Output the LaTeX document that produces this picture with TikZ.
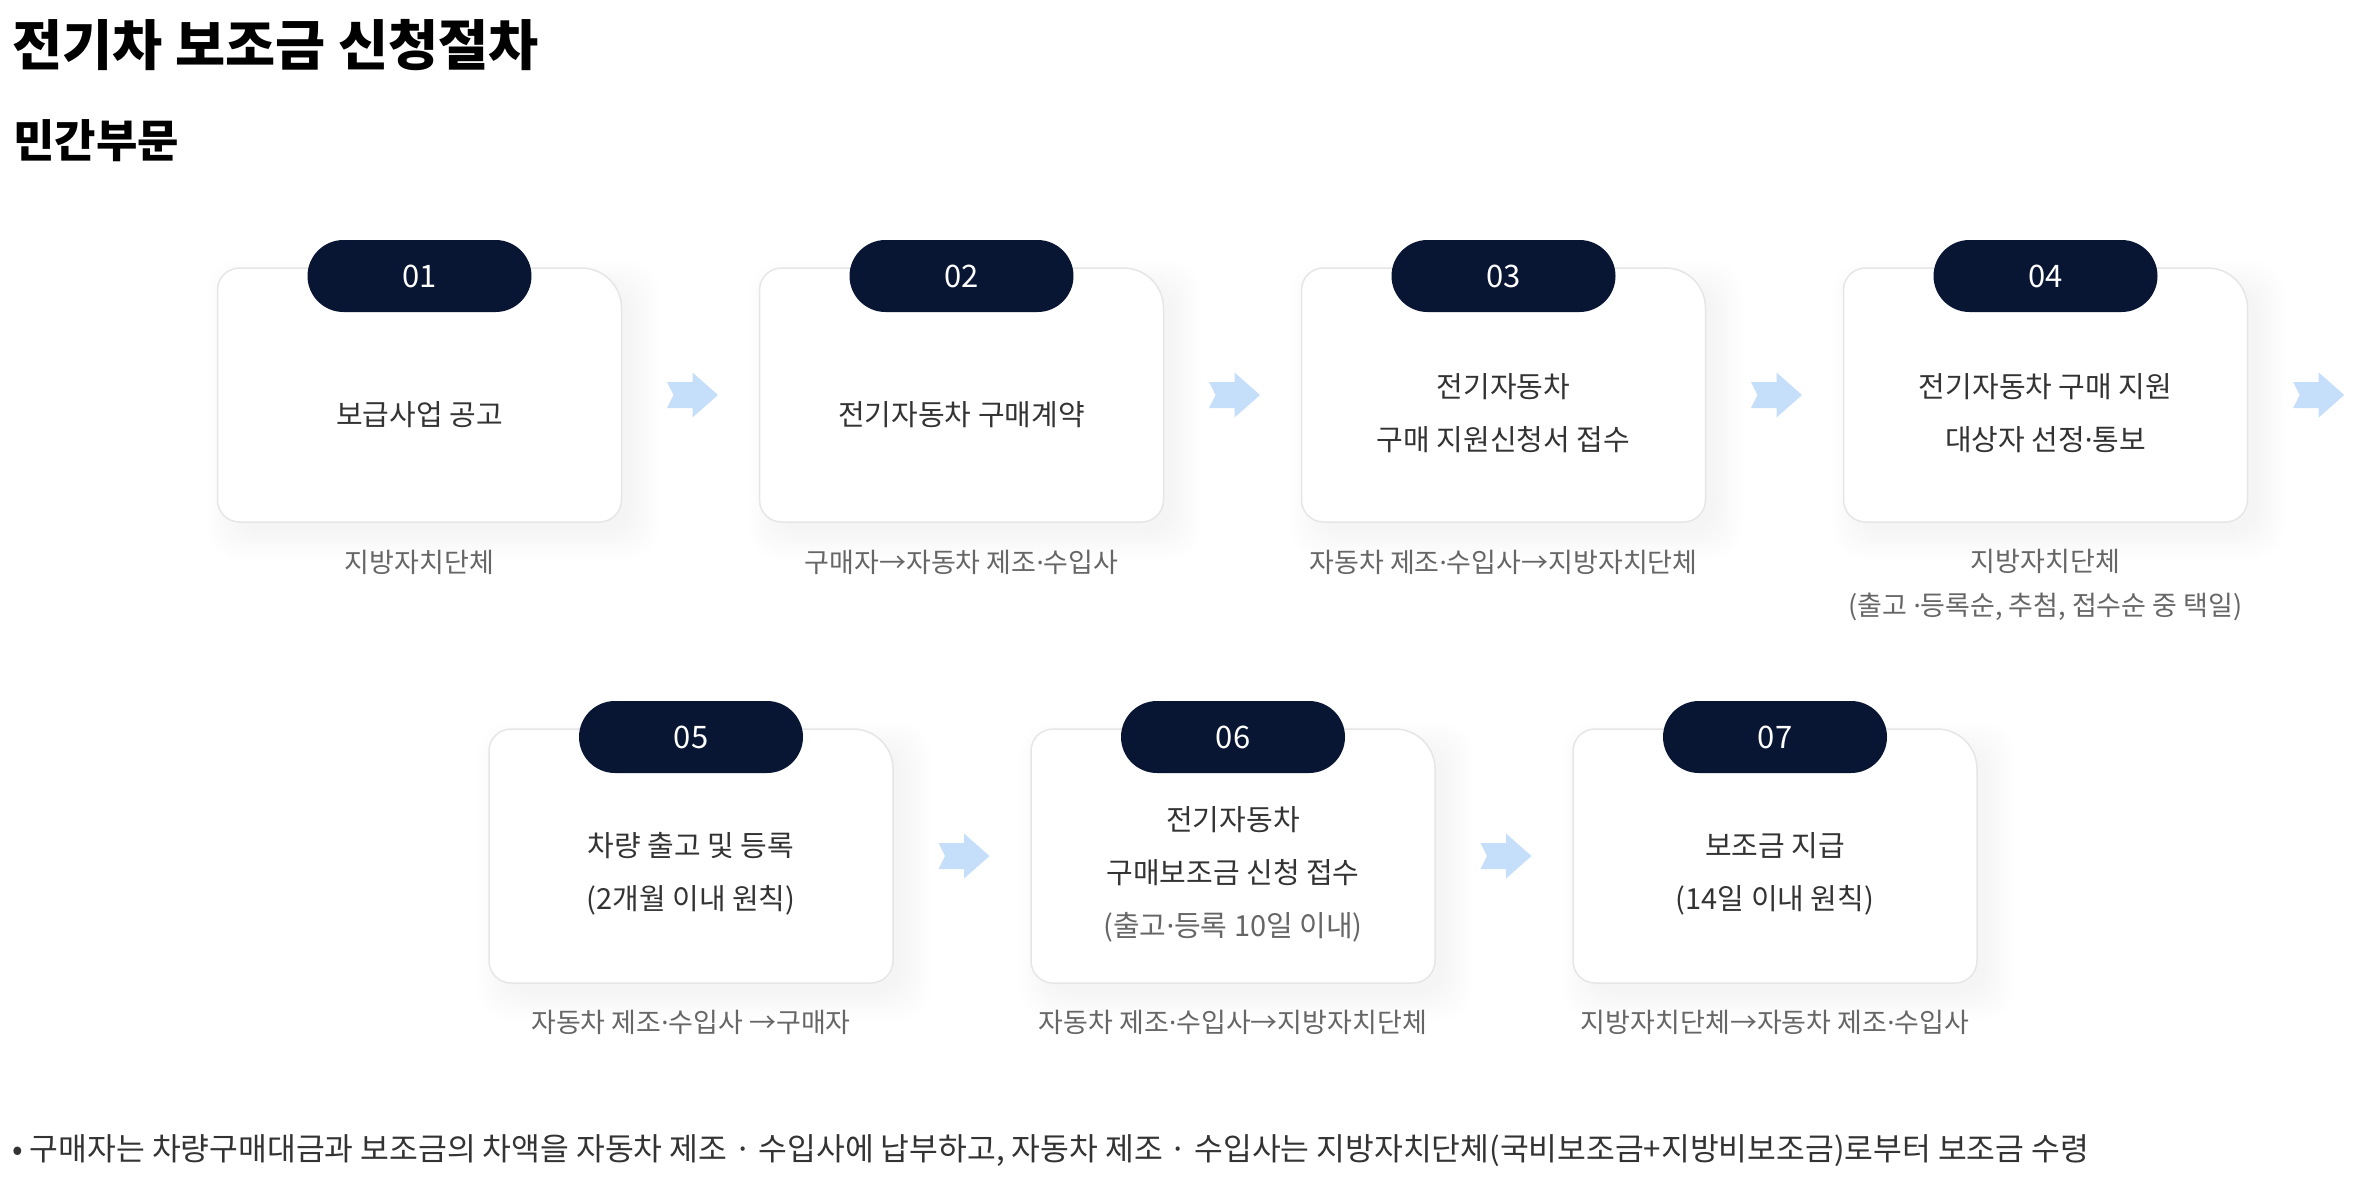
\documentclass[tikz,border=0pt]{standalone}
\usepackage{fontspec}
\setmainfont{Noto Sans CJK KR}
\newfontfamily\dotfont{Noto Sans}
\newcommand\mdot{{\dotfont ·}}
\usetikzlibrary{calc}
\definecolor{navy}{HTML}{081633}
\definecolor{cardborder}{HTML}{E6E6E6}
\definecolor{textdark}{HTML}{333333}
\definecolor{textgray}{HTML}{666666}
\definecolor{chevblue}{HTML}{C5DEFA}
\tikzset{
  cardline/.style={draw=cardborder, line width=1.5pt, fill=white},
  shadowlayer/.style={fill=black, opacity=0.0045, rounded corners=30pt},
  pill/.style={fill=navy, rounded corners=36pt, minimum width=224pt, minimum height=72pt, inner sep=0pt, text=white, font=\fontsize{31}{36}\selectfont},
  cardtext/.style={text=textdark, align=center, inner sep=0pt, font=\fontsize{29}{53}\selectfont},
  steplabel/.style={text=textgray, align=center, inner sep=0pt, font=\fontsize{27}{44}\selectfont},
  cardbox/.style={minimum width=404pt, minimum height=254pt, inner sep=0pt, draw=none},
  chev/.style={fill=chevblue},
  headline/.style={anchor=west, inner sep=0pt, text=black, font=\bfseries\fontsize{54.5}{60}\selectfont},
  subhead/.style={anchor=west, inner sep=0pt, text=black, font=\bfseries\fontsize{45}{50}\selectfont},
  footnote/.style={anchor=west, inner sep=0pt, text=textdark, font=\fontsize{31.3}{36}\selectfont}
}
% #1 centre x, #2 top y, #3 name, #4 number
\newcommand\stepcard[4]{%
  \node[cardbox] (#3) at (#1,{#2+127}) {};
  \foreach \s in {0,3,...,27} {
    \fill[shadowlayer] ({#1-202+16-\s},{#2+20-\s}) rectangle ({#1+202+10+\s},{#2+254+10+\s});
  }
  \draw[cardline] ({#1-202},{#2+22}) arc[start angle=180,end angle=270,radius=22]
    -- ({#1+202-40},{#2}) arc[start angle=270,end angle=360,radius=40]
    -- ({#1+202},{#2+254-22}) arc[start angle=0,end angle=90,radius=22]
    -- ({#1-202+22},{#2+254}) arc[start angle=90,end angle=180,radius=22] -- cycle;
  \node[pill] (#3p) at (#1,{#2+8}) {#4};
}
\newcommand\chevron[1]{%
  \fill[chev,shift={(#1)}] (-25.5,-13) -- (0,-13) -- (0,-22.5) -- (25.5,0) -- (0,22.5) -- (0,13) -- (-25.5,13) -- (-19,0) -- cycle;
}
\begin{document}
\begin{tikzpicture}[x=1pt,y=-1pt]
\useasboundingbox[fill=white] (0,0) rectangle (2354,1178);

\node[headline] (title) at (12,45) {전기차 보조금 신청절차};
\node[subhead] (sub) at (13,141) {민간부문};

% row 1
\stepcard{419.5}{268}{c1}{01}
\stepcard{961.5}{268}{c2}{02}
\stepcard{1503.5}{268}{c3}{03}
\stepcard{2045.5}{268}{c4}{04}
% row 2
\stepcard{691}{729}{c5}{05}
\stepcard{1233}{729}{c6}{06}
\stepcard{1775}{729}{c7}{07}

% card texts
\node[cardtext] (t1) at (419.5,415) {보급사업 공고};
\node[cardtext] (t2) at (961.5,415) {전기자동차 구매계약};
\node[cardtext] (t3) at (1503.5,413) {전기자동차\\구매 지원신청서 접수};
\node[cardtext] (t4) at (2045.5,413) {전기자동차 구매 지원\\대상자 선정\mdot 통보};
\node[cardtext] (t5) at (691,874) {차량 출고 및 등록\\(2개월 이내 원칙)};
\node[cardtext] (t6) at (1233,874) {전기자동차\\구매보조금 신청 접수\\\textcolor{textgray}{(출고\mdot 등록 10일 이내)}};
\node[cardtext] (t7) at (1775,874) {보조금 지급\\(14일 이내 원칙)};

% labels
\node[steplabel] (l1) at (419.5,562) {지방자치단체};
\node[steplabel] (l2) at (961.5,562) {구매자→자동차 제조\mdot 수입사};
\node[steplabel] (l3) at (1503.5,562) {자동차 제조\mdot 수입사→지방자치단체};
\node[steplabel] (l4) at (2045.5,585) {지방자치단체\\(출고 \mdot 등록순, 추첨, 접수순 중 택일)};
\node[steplabel] (l5) at (691,1022) {자동차 제조\mdot 수입사 →구매자};
\node[steplabel] (l6) at (1233,1022) {자동차 제조\mdot 수입사→지방자치단체};
\node[steplabel] (l7) at (1775,1022) {지방자치단체→자동차 제조\mdot 수입사};

% chevrons
\coordinate (a12) at ($(c1.east)!0.5!(c2.west)+(2,0)$);
\coordinate (a23) at ($(c2.east)!0.5!(c3.west)+(2,0)$);
\coordinate (a34) at ($(c3.east)!0.5!(c4.west)+(2,0)$);
\coordinate (a4x) at ($(c4.east)+(71,0)$);
\coordinate (a56) at ($(c5.east)!0.5!(c6.west)+(2,0)$);
\coordinate (a67) at ($(c6.east)!0.5!(c7.west)+(2,0)$);
\chevron{a12}\chevron{a23}\chevron{a34}\chevron{a4x}\chevron{a56}\chevron{a67}

\node[footnote] (note) at (12,1151) {• 구매자는 차량구매대금과 보조금의 차액을 자동차 제조 · 수입사에 납부하고, 자동차 제조 · 수입사는 지방자치단체(국비보조금+지방비보조금)로부터 보조금 수령};
\end{tikzpicture}
\end{document}
